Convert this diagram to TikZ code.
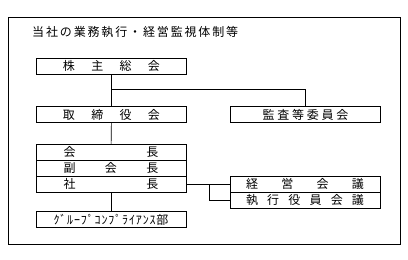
\documentclass[tikz,border=0pt]{standalone}
\usepackage{fontspec}
\newfontfamily\jp{Noto Sans CJK JP}
\usetikzlibrary{positioning}
% spread the characters of a label over a given width
\newcommand\spreadtext[2]{\makebox[#1]{\spreadloop#2\relax}}
\def\spreadloop#1#2{#1\ifx\relax#2\else\hfill\expandafter\spreadloop\expandafter#2\fi}
\tikzset{
  orgbox/.style={draw, line width=.7pt, minimum width=150pt, minimum height=16pt,
    inner sep=0pt, outer sep=0pt, font=\jp\fontsize{12}{12}\selectfont},
  link/.style={line width=.7pt}
}

\begin{document}
\begin{tikzpicture}[x=1pt,y=-1pt]
\useasboundingbox (0,0) rectangle (408,260);
\draw [line width=.7pt] (8,17) rectangle (400,244);
\node [anchor=west, inner sep=0pt, font=\jp\fontsize{12}{12}\selectfont] (title)
    at (32,32) {\spreadtext{206pt}{当社の業務執行・経営監視体制等}};

\node [orgbox] (soukai) at (111.5,66) {\spreadtext{97pt}{株主総会}};
\node [orgbox] (torishimari) at (111.5,114.5) {\spreadtext{97pt}{取締役会}};
\node [orgbox] (kansa) at (305.5,114.5) {\spreadtext{86pt}{監査等委員会}};

\node [orgbox] (kaicho) at (111,152) {\spreadtext{95pt}{会長}};
\node [orgbox, below=0pt of kaicho] (fukukaicho) {\spreadtext{95pt}{副会長}};
\node [orgbox, below=0pt of fukukaicho] (shacho) {\spreadtext{95pt}{社長}};
\node [orgbox] (group) at (111,219.75) {\spreadtext{115pt}{ｸﾞﾙｰﾌﾟｺﾝﾌﾟﾗｲｱﾝｽ部}};

\node [orgbox] (keiei) at (305,184) {\spreadtext{118pt}{経営会議}};
\node [orgbox, below=0pt of keiei] (shikko) {\spreadtext{118pt}{執行役員会議}};

% connectors
\coordinate (split) at (soukai.south |- 0,89.5);
\draw [link] (soukai) -- (torishimari);
\draw [link] (split) -| (kansa);
\draw [link] (torishimari) -- (kaicho);
\draw [link] (shacho) -- (group);
\draw [link] (shacho) -- (keiei);
\coordinate (fork) at (209,184);
\draw [link] (fork) |- (shikko);
\end{tikzpicture}
\end{document}
